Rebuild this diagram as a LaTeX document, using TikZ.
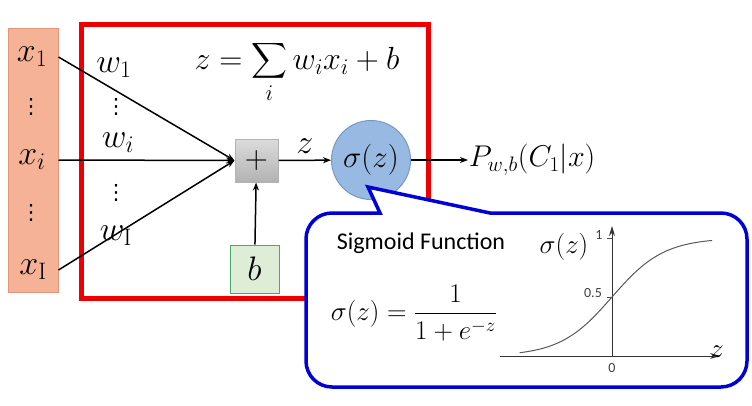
\RequirePackage{fix-cm}
\documentclass[tikz,border=0pt]{standalone}
\usepackage{amsmath}
\usepackage{fontspec}
\setsansfont{Carlito}
\newfontfamily\dotsfont{DejaVu Sans}
\usetikzlibrary{positioning,arrows.meta}
\definecolor{inputfill}{RGB}{246,178,150}
\definecolor{inputdraw}{RGB}{226,150,118}
\definecolor{sumtop}{RGB}{220,220,220}
\definecolor{sumbot}{RGB}{178,178,178}
\definecolor{biasfill}{RGB}{222,238,214}
\definecolor{biasdraw}{RGB}{70,170,110}
\definecolor{sigfill}{RGB}{152,186,226}
\definecolor{sigdraw}{RGB}{118,152,198}
\definecolor{callblue}{RGB}{0,0,215}
\definecolor{boxred}{RGB}{238,0,0}
\tikzstyle{input box}=[
        draw = inputdraw,
        fill = inputfill,
        line width = 1pt,
        minimum width = 50pt,
        minimum height = 264pt
    ]
\tikzstyle{sum box}=[
        draw = sumbot,
        top color = sumtop,
        bottom color = sumbot,
        line width = 1pt,
        minimum size = 43pt,
        inner sep = 0pt
    ]
\tikzstyle{bias box}=[
        draw = biasdraw,
        fill = biasfill,
        line width = 1pt,
        minimum width = 49pt,
        minimum height = 48pt,
        inner sep = 0pt
    ]
\tikzstyle{sig node}=[
        draw = sigdraw,
        fill = sigfill,
        line width = 1pt,
        circle,
        minimum size = 79pt,
        inner sep = 0pt
    ]

\begin{document}
\begin{tikzpicture}[x=1pt, y=-1pt, line width=1.5pt, >={Stealth[length=8pt,width=6pt]},
        big/.style = {font=\fontsize{34}{40}\selectfont, inner sep=0pt},
        mid/.style = {font=\fontsize{27}{32}\selectfont, inner sep=0pt},
        dots/.style = {font=\dotsfont\fontsize{21}{25}\selectfont, inner sep=0pt},
        tick/.style = {font=\sffamily\fontsize{14}{16}\selectfont, inner sep=0pt, text=black!75}]
        \useasboundingbox (0,0) rectangle (752,405);

        % inputs
        \node[input box] (inputs) at (33,160) {};
        \node[big] (x1) at (32,57) {$x_1$};
        \node[dots] (xd1) at (31,107) {⋮};
        \node[big] (xi) at (32,160) {$x_i$};
        \node[dots] (xd2) at (31,213) {⋮};
        \node[big] (xI) at (33,270) {$x_{\mathrm{I}}$};

        % neuron
        \draw[boxred, line width=5pt] (81,24) rectangle (428,298);
        \node[font=\fontsize{32}{38}\selectfont, inner sep=0pt] (sumeq) at (297,72) {$z=\displaystyle\sum_i w_i x_i+b$};
        \node[sum box, font=\fontsize{32}{38}\selectfont] (plus) at (256.5,160.5) {$+$};
        \node[bias box, font=\fontsize{34}{40}\selectfont] (bias) at (254.5,269) {$b$};
        \node[sig node, font=\fontsize{31}{36}\selectfont] (sig) at (371,160) {$\sigma(z)$};
        \node[font=\fontsize{30}{36}\selectfont, inner sep=0pt, right=57pt of sig] (out) {$P_{w,b}(C_1|x)$};

        \node[big] (w1) at (114,68) {$w_1$};
        \node[dots] (wd1) at (116,107) {⋮};
        \node[big] (wi) at (118,143) {$w_i$};
        \node[dots] (wd2) at (116,193) {⋮};
        \node[big] (wI) at (116,236) {$w_{\mathrm{I}}$};

        \draw[->] (x1 -| inputs.east) -- (plus.west);
        \draw[->] (xi -| inputs.east) -- (plus.west);
        \draw[->] (xI -| inputs.east) -- (plus.west);
        \draw[->] (plus) -- (sig) node [midway,above=6pt,big] {$z$};
        \draw[->] (bias) -- (plus);
        \draw[->] (sig) -- (out);

        % sigmoid call-out
        \coordinate (tip) at (368,187);
        \filldraw[callblue, fill=white, line width=3.5pt] (380,213) -- (tip) -- (490,213)
            [rounded corners=26pt] -- (747,213) -- (747,387) -- (306,387) -- (306,213)
            [sharp corners] -- cycle;
        \node[font=\sffamily\fontsize{24}{28}\selectfont, inner sep=0pt] (title) at (421,243) {Sigmoid Function};
        \node[mid] (sigeq) at (414,313) {$\sigma(z)=\dfrac{1}{1+e^{-z}}$};

        \coordinate (o) at (612,356);
        \draw[black!80, line width=1pt, -{Stealth[length=10pt,width=6pt]}] ([xshift=-112pt]o) -- ([xshift=108pt]o);
        \draw[black!80, line width=1pt, -{Stealth[length=10pt,width=6pt]}] (o) -- ([yshift=130pt]o);
        \draw[black!70, line width=0.8pt] (607,238) -- (612,238) (607,297) -- (612,297);
        \draw[black!65, line width=1pt] plot[domain=-3.55:3.85, samples=80] ({612+26*\x}, {356-118/(1+exp(-\x))});
        \node[tick] (one) at (599,235) {1};
        \node[tick] (half) at (593,293) {0.5};
        \node[tick] (zero) at (612,368) {0};
        \node[mid] (sigax) at (564,247) {$\sigma(z)$};
        \node[mid] (zax) at (717,352) {$z$};
\end{tikzpicture}
\end{document}
